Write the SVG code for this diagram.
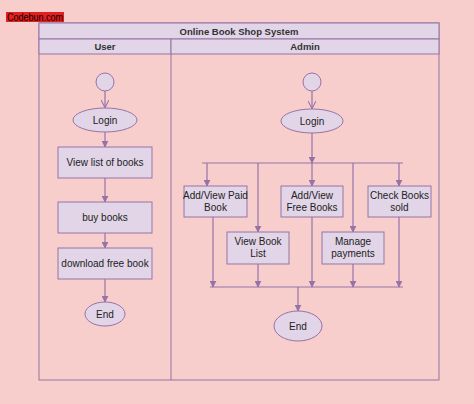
<svg xmlns="http://www.w3.org/2000/svg" width="474" height="404" viewBox="0 0 474 404">
<style>
text{font-family:"Liberation Sans",Arial,sans-serif;font-size:10px;fill:#222;text-anchor:middle}
.b{font-size:9.5px;font-weight:bold;fill:#333}
.n{fill:#e1d5e7;stroke:#9673a6;stroke-width:1}
.c{fill:none;stroke:#9673a6;stroke-width:1.2}
</style>
<defs>
<marker id="tri" viewBox="0 0 10 10" refX="9" refY="5" markerWidth="7" markerHeight="7" orient="auto" markerUnits="userSpaceOnUse"><path d="M0,0L10,5L0,10z" fill="#9673a6"/></marker>
<marker id="open" viewBox="0 0 10 10" refX="9" refY="5" markerWidth="8" markerHeight="8" orient="auto" markerUnits="userSpaceOnUse"><path d="M0,0L10,5L0,10" fill="none" stroke="#9673a6" stroke-width="1.3"/></marker>
</defs>
<rect width="474" height="404" fill="#f8cecc"/>
<g id="watermark"><rect x="6" y="12" width="58" height="10" fill="#e51f1f"/><text x="35" y="20.5" textLength="56" lengthAdjust="spacingAndGlyphs" style="font-size:10px;fill:#000">Codebun.com</text></g>
<g id="pool">
<rect x="39" y="23" width="400" height="357" fill="none" stroke="#9673a6"/>
<rect class="n" x="39" y="23" width="400" height="16"/>
<text class="b" x="239" y="34.5">Online Book Shop System</text>
<rect class="n" x="39" y="39" width="132" height="15"/>
<text class="b" x="105" y="50">User</text>
<rect class="n" x="171" y="39" width="268" height="15"/>
<text class="b" x="305" y="50">Admin</text>
<line x1="171" y1="54" x2="171" y2="380" stroke="#9673a6"/>
</g>
<g id="connectors">
<path class="c" d="M105,91V107" marker-end="url(#open)"/>
<path class="c" d="M105,132V147" marker-end="url(#tri)"/>
<path class="c" d="M105,178V202" marker-end="url(#tri)"/>
<path class="c" d="M105,233V248" marker-end="url(#tri)"/>
<path class="c" d="M105,279V302" marker-end="url(#tri)"/>
<path class="c" d="M312,91V108" marker-end="url(#open)"/>
<path class="c" d="M312,133V163" marker-end="url(#tri)"/>
<path class="c" d="M202,163H403"/>
<path class="c" d="M207,163V186" marker-end="url(#tri)"/>
<path class="c" d="M258,163V232" marker-end="url(#tri)"/>
<path class="c" d="M312,163V186" marker-end="url(#tri)"/>
<path class="c" d="M353,163V232" marker-end="url(#tri)"/>
<path class="c" d="M399,163V186" marker-end="url(#tri)"/>
<path class="c" d="M213,217V287" marker-end="url(#tri)"/>
<path class="c" d="M258,264V287" marker-end="url(#tri)"/>
<path class="c" d="M312,217V287" marker-end="url(#tri)"/>
<path class="c" d="M353,264V287" marker-end="url(#tri)"/>
<path class="c" d="M399,217V287" marker-end="url(#tri)"/>
<path class="c" d="M210,287H403"/>
<path class="c" d="M298,287V311" marker-end="url(#tri)"/>
</g>
<g id="u-start"><circle class="n" cx="105" cy="82" r="9"/></g>
<g id="u-login"><ellipse class="n" cx="105" cy="120" rx="32" ry="12"/><text x="105" y="124">Login</text></g>
<g id="u-view"><rect class="n" x="58" y="147" width="94" height="31"/><text x="105" y="166">View list of books</text></g>
<g id="u-buy"><rect class="n" x="58" y="202" width="94" height="31"/><text x="105" y="221">buy books</text></g>
<g id="u-download"><rect class="n" x="58" y="248" width="94" height="31"/><text x="105" y="267">download free book</text></g>
<g id="u-end"><ellipse class="n" cx="105" cy="314" rx="20" ry="12"/><text x="105" y="318">End</text></g>
<g id="a-start"><circle class="n" cx="312" cy="82" r="9"/></g>
<g id="a-login"><ellipse class="n" cx="312" cy="121" rx="31" ry="12"/><text x="312" y="125">Login</text></g>
<g id="a-paid"><rect class="n" x="184" y="186" width="63" height="31"/><text x="215.5" y="199">Add/View Paid</text><text x="215.5" y="211">Book</text></g>
<g id="a-free"><rect class="n" x="281" y="186" width="62" height="31"/><text x="312" y="199">Add/View</text><text x="312" y="211">Free Books</text></g>
<g id="a-check"><rect class="n" x="368" y="186" width="63" height="31"/><text x="399.5" y="199">Check Books</text><text x="399.5" y="211">sold</text></g>
<g id="a-list"><rect class="n" x="227" y="232" width="62" height="32"/><text x="258" y="245">View Book</text><text x="258" y="257">List</text></g>
<g id="a-pay"><rect class="n" x="322" y="232" width="62" height="32"/><text x="353" y="245">Manage</text><text x="353" y="257">payments</text></g>
<g id="a-end"><ellipse class="n" cx="298" cy="326" rx="24" ry="15"/><text x="298" y="330">End</text></g>
</svg>
